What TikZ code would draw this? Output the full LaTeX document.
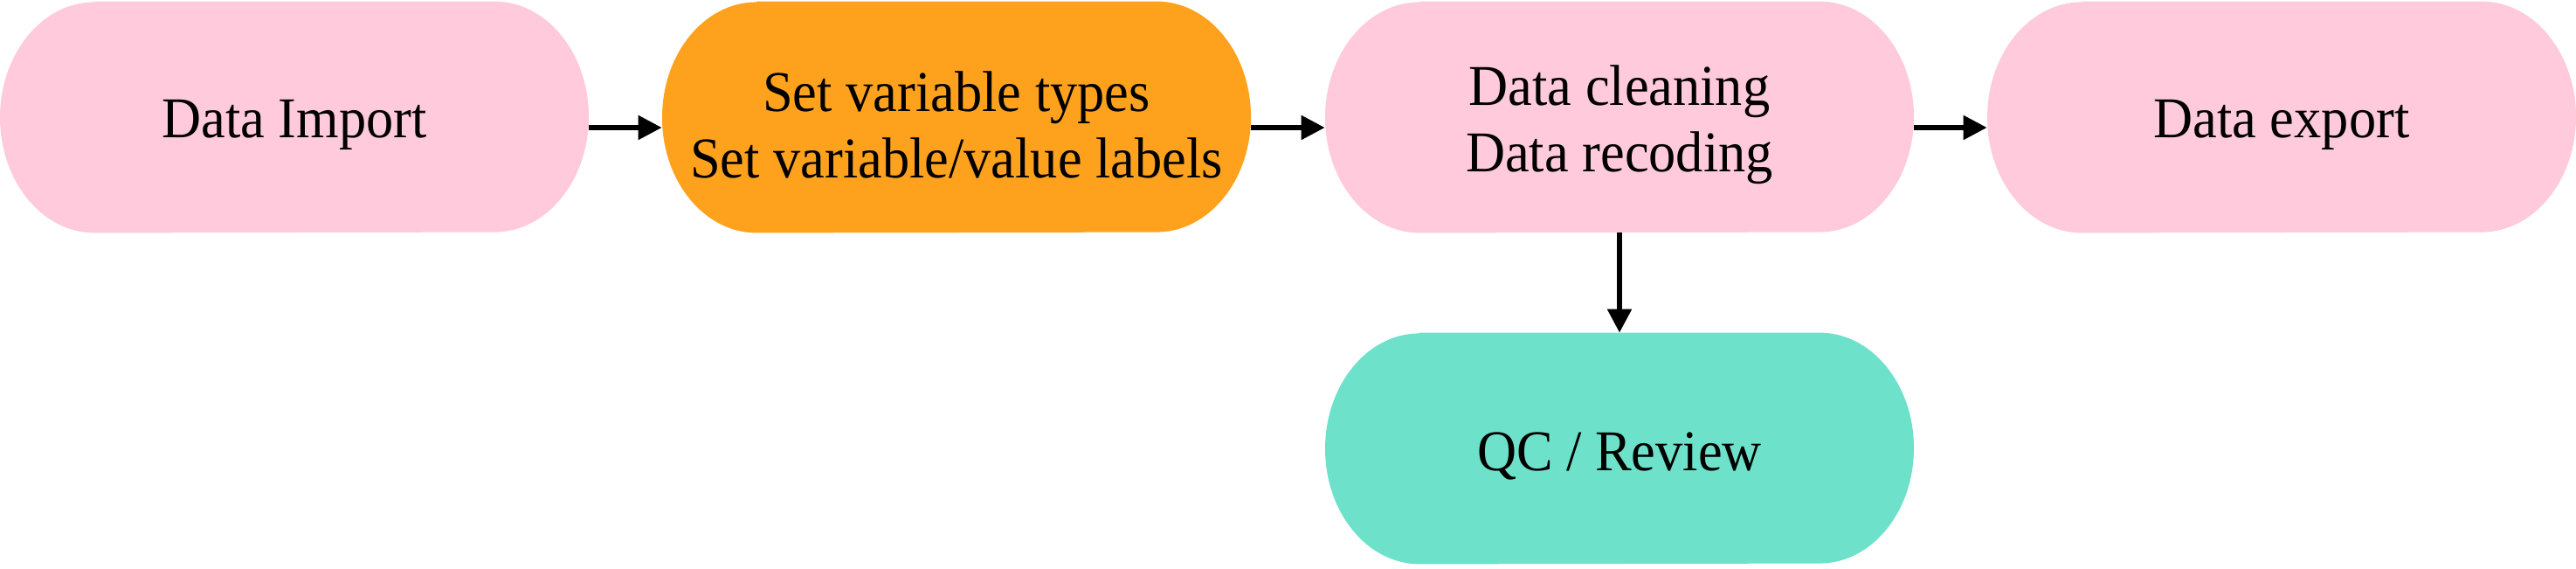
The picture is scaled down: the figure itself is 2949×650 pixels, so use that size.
\documentclass[tikz,border=0pt]{standalone}
\usepackage{fontspec}
\setmainfont[FakeStretch=0.945]{Liberation Serif}
\usetikzlibrary{arrows.meta,backgrounds}
\definecolor{pinkbox}{HTML}{FFCADC}
\definecolor{orangebox}{HTML}{FEA21D}
\definecolor{tealbox}{HTML}{6DE1CA}
\tikzset{
  stadium/.style={minimum width=337pt, minimum height=132pt, inner sep=0pt,
    align=center, font=\fontsize{33}{38}\selectfont},
  flow/.style={line width=2.7pt, -{Triangle[length=13.5pt, width=13.5pt]}}
}
\begin{document}
\begin{tikzpicture}[x=0.5pt, y=0.5pt]
\useasboundingbox (0,0) rectangle (2949,650);
% nodes are placed 4.5pt below the shape centres so that the text sits as in the reference
\node[stadium] (imp) at (337,507) {Data Import};
\node[stadium] (set) at (1095,507) {Set variable types\\Set variable/value labels};
\node[stadium] (cln) at (1854,507) {Data cleaning\\Data recoding};
\node[stadium] (exp) at (2612,507) {Data export};
\node[stadium] (qc) at (1854,128) {QC / Review};
\begin{scope}[on background layer]
\foreach \n/\c in {imp/pinkbox, set/orangebox, cln/pinkbox, exp/pinkbox, qc/tealbox}
  \fill[\c] ([xshift=-114.5pt, yshift=4.5pt]\n.north) -- ([xshift=114.5pt, yshift=4.5pt]\n.north)
      arc[start angle=90, end angle=-90, x radius=54pt, y radius=66pt]
      -- ([xshift=-114.5pt, yshift=4.5pt]\n.south)
      arc[start angle=270, end angle=90, x radius=54pt, y radius=66pt] -- cycle;
\end{scope}
\draw[flow] ([yshift=-1.5pt]imp.east) -- ([yshift=-1.5pt]set.west);
\draw[flow] ([yshift=-1.5pt]set.east) -- ([yshift=-1.5pt]cln.west);
\draw[flow] ([yshift=-1.5pt]cln.east) -- ([yshift=-1.5pt]exp.west);
\draw[flow] ([yshift=4.5pt]cln.south) -- ([yshift=4.5pt]qc.north);
\end{tikzpicture}
\end{document}
